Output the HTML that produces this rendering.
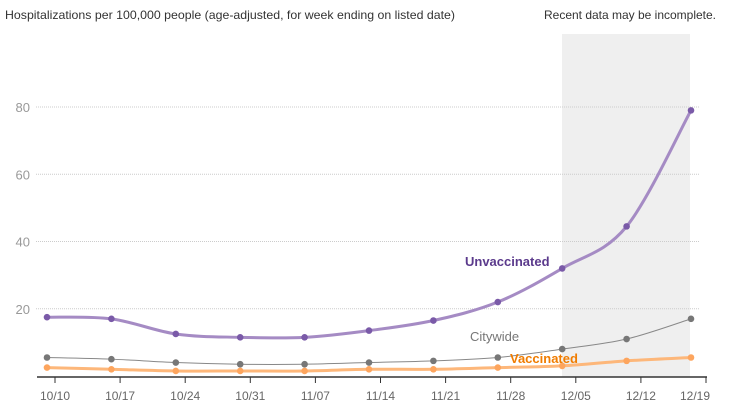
<!DOCTYPE html>
<html><head><meta charset="utf-8"><style>
html,body{margin:0;padding:0;background:#fff;}
svg{display:block;font-family:"Liberation Sans",Arial,sans-serif;}
</style></head><body>
<svg id="chart" width="731" height="417" viewBox="0 0 731 417" xmlns="http://www.w3.org/2000/svg">
<rect x="562" y="34" width="128" height="343" fill="#efefef"/>
<text x="5" y="19" font-size="12" fill="#333" textLength="450" lengthAdjust="spacingAndGlyphs">Hospitalizations per 100,000 people (age-adjusted, for week ending on listed date)</text>
<text x="716" y="19" font-size="12" fill="#333" text-anchor="end" textLength="172" lengthAdjust="spacingAndGlyphs">Recent data may be incomplete.</text>
<g id="grid"></g><g id="xaxis"></g><g id="series"></g>
<text x="465" y="266" font-size="13" font-weight="bold" fill="#5b3a8c">Unvaccinated</text>
<text x="470" y="341" font-size="13" fill="#777">Citywide</text>
<text x="510" y="363" font-size="13" font-weight="bold" fill="#f07c00">Vaccinated</text>
</svg>
<script>
const categories=["10/10","10/17","10/24","10/31","11/07","11/14","11/21","11/28","12/05","12/12","12/19"];
const unvaccinated=[17.5,17,12.5,11.5,11.5,13.5,16.5,22,32,44.5,79];
const citywide=[5.5,5,4,3.5,3.5,4,4.5,5.5,8,11,17];
const vaccinated=[2.5,2,1.5,1.5,1.5,2,2,2.5,3,4.5,5.5];
const yTicks=[20,40,60,80];
const NS="http://www.w3.org/2000/svg";
const y=v=>376-v*(376-107)/80;
const xp=i=>47+i*(691-47)/(categories.length-1);
const xt=i=>55+i*(706-55)/(categories.length-1);
function mk(tag,attrs,parent){const e=document.createElementNS(NS,tag);for(const k in attrs)e.setAttribute(k,attrs[k]);parent.appendChild(e);return e;}
const grid=document.getElementById('grid');
yTicks.forEach(t=>{
 const l=mk('line',{x1:36,x2:700,y1:y(t),y2:y(t),stroke:'#ccc','stroke-dasharray':'1,1'},grid);
 
 
 const tx=mk('text',{x:30,y:y(t)+5,'font-size':13,fill:'#999','text-anchor':'end'},grid);
 tx.textContent=t;
 
 
});
const xa=document.getElementById('xaxis');
const ax=mk('line',{x1:37,x2:707,y1:377,y2:377,stroke:'#333','stroke-width':1.5},xa);


categories.forEach((c,i)=>{
 const tk=mk('line',{x1:xt(i),x2:xt(i),y1:377,y2:383,stroke:'#333'},xa);
 
 
 const last=i===categories.length-1;
 const tx=mk('text',{x:last?xt(i)+4:xt(i),y:400,'font-size':12,fill:'#666','text-anchor':last?'end':'middle'},xa);
 tx.textContent=c;
 
 
});
function path(pts){let d='M'+pts[0][0]+','+pts[0][1];for(let i=0;i<pts.length-1;i++){const p0=pts[i-1]||pts[i],p1=pts[i],p2=pts[i+1],p3=pts[i+2]||p2;const t=6;d+=' C'+(p1[0]+(p2[0]-p0[0])/t)+','+(p1[1]+(p2[1]-p0[1])/t)+' '+(p2[0]-(p3[0]-p1[0])/t)+','+(p2[1]-(p3[1]-p1[1])/t)+' '+p2[0]+','+p2[1];}return d;}
const sg=document.getElementById('series');
function draw(vals,name,line,dot,w,r){
 const pts=vals.map((v,i)=>[xp(i),y(v)]);
 const p=mk('path',{d:path(pts),fill:'none',stroke:line,'stroke-width':w},sg);
 
 
 pts.forEach(q=>{const c=mk('circle',{cx:q[0],cy:q[1],r:r,fill:dot},sg);
 
 });
}
draw(citywide,'citywide','#888','#777',1,3.3);
draw(vaccinated,'vaccinated','#fdb77a','#fda55e',3,3.3);
draw(unvaccinated,'unvaccinated','#a58bc4','#7a5aa8',3,3.3);
</script>
</body></html>
